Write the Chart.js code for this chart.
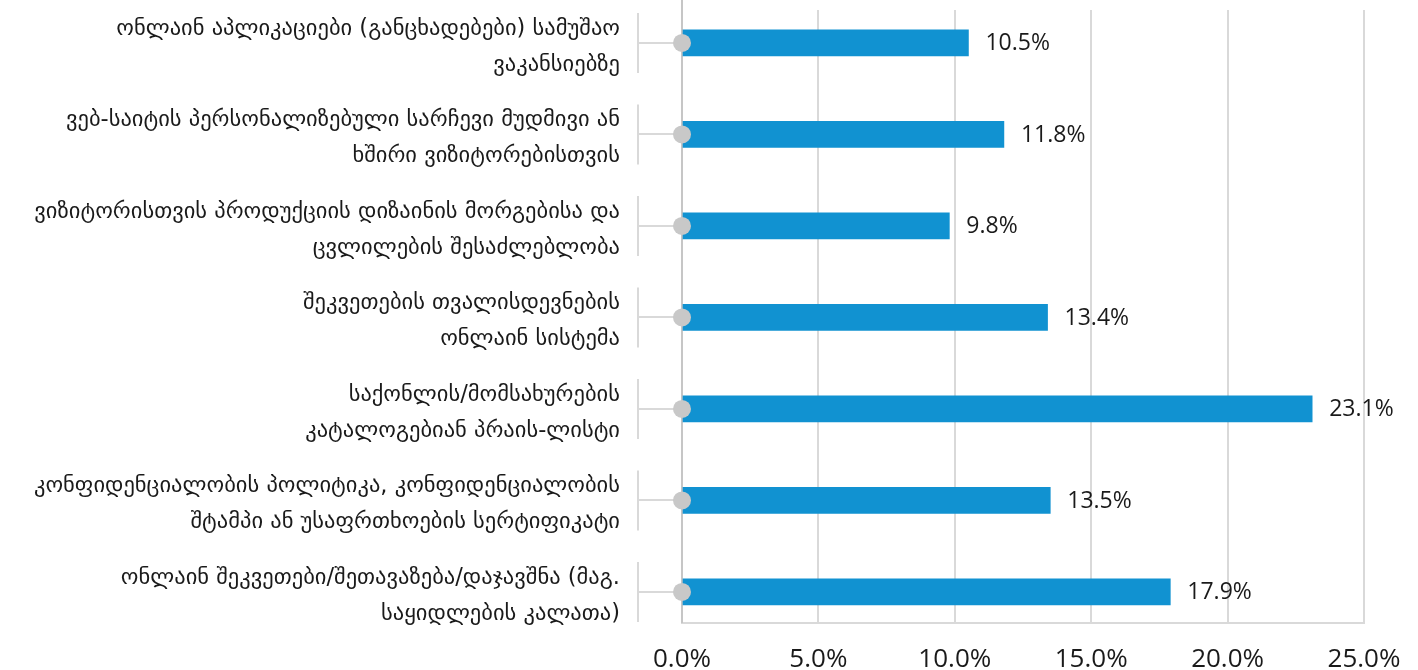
<!DOCTYPE html>
<html>
<head>
<meta charset="utf-8">
<script src="https://cdn.jsdelivr.net/npm/chart.js@4/dist/chart.umd.min.js"></script>
<style>
  html, body { margin: 0; padding: 0; background: #fff; }
  #wrap { position: relative; width: 1418px; height: 670px; }
</style>
</head>
<body>
<div id="wrap"><canvas id="c" width="1418" height="670"></canvas></div>
<script>
const categories = [
  ["ონლაინ აპლიკაციები (განცხადებები) სამუშაო", "ვაკანსიებზე"],
  ["ვებ-საიტის პერსონალიზებული სარჩევი მუდმივი ან", "ხშირი ვიზიტორებისთვის"],
  ["ვიზიტორისთვის პროდუქციის დიზაინის მორგებისა და", "ცვლილების შესაძლებლობა"],
  ["შეკვეთების თვალისდევნების", "ონლაინ სისტემა"],
  ["საქონლის/მომსახურების", "კატალოგებიან პრაის-ლისტი"],
  ["კონფიდენციალობის პოლიტიკა, კონფიდენციალობის", "შტამპი ან უსაფრთხოების სერტიფიკატი"],
  ["ონლაინ შეკვეთები/შეთავაზება/დაჯავშნა (მაგ.", "საყიდლების კალათა)"]
];
const values = [10.5, 11.8, 9.8, 13.4, 23.1, 13.5, 17.9];
const xTicks = [0, 5, 10, 15, 20, 25];

const AREA_LEFT = 682, AREA_TOP = 10, AREA_BOTTOM = 623, AREA_RIGHT = 1364;

const decor = {
  id: 'decor',
  beforeDatasetsDraw(chart) {
    const ctx = chart.ctx, y = chart.scales.y;
    ctx.save();
    ctx.strokeStyle = '#d9d9d9';
    ctx.lineWidth = 2;
    categories.forEach((c, i) => {
      const py = y.getPixelForValue(i);
      ctx.beginPath();
      ctx.moveTo(638, py - 30);
      ctx.lineTo(638, py + 30);
      ctx.stroke();
    });
    ctx.strokeStyle = '#c6c6c6';
    ctx.beginPath();
    ctx.moveTo(chart.chartArea.left, 0);
    ctx.lineTo(chart.chartArea.left, chart.chartArea.bottom);
    ctx.stroke();
    ctx.restore();
  },
  afterDatasetsDraw(chart) {
    const ctx = chart.ctx;
    const meta = chart.getDatasetMeta(0);
    ctx.save();
    ctx.fillStyle = '#1a1a1a';
    ctx.font = '23px "Open Sans"';
    ctx.textAlign = 'left';
    ctx.textBaseline = 'middle';
    meta.data.forEach((bar, i) => {
      ctx.fillText(values[i].toFixed(1) + '%', bar.x + 17, bar.y + 1);
    });
    ctx.restore();
  }
};

new Chart(document.getElementById('c'), {
  data: {
    datasets: [
      {
        type: 'bar',
        data: values.map((v, i) => ({ x: v, y: i })),
        backgroundColor: '#1192d1',
        barThickness: 26,
        order: 1
      },
      {
        type: 'line',
        data: values.map((v, i) => ({ x: 0, y: i })),
        showLine: false,
        pointRadius: 9,
        pointBackgroundColor: '#c8c8c8',
        pointBorderWidth: 0,
        clip: false,
        order: 0
      }
    ]
  },
  plugins: [decor],
  options: {
    indexAxis: 'y',
    responsive: false,
    animation: false,
    layout: { padding: { top: AREA_TOP, right: 1418 - AREA_RIGHT, left: 0, bottom: 0 } },
    plugins: { legend: { display: false }, tooltip: { enabled: false } },
    scales: {
      x: {
        type: 'linear',
        min: 0, max: 25,
        afterBuildTicks: s => { s.ticks = xTicks.map(v => ({ value: v })); },
        afterFit: s => { s.height = 670 - AREA_BOTTOM; s.paddingLeft = 0; s.paddingRight = 0; },
        grid: { color: '#d9d9d9', lineWidth: 2, drawTicks: false },
        border: { color: '#d9d9d9', width: 2 },
        ticks: {
          color: '#1a1a1a',
          font: { family: 'Open Sans', size: 26 },
          padding: 21,
          callback: v => v.toFixed(1) + '%'
        }
      },
      y: {
        type: 'linear',
        reverse: true,
        offset: false,
        min: -0.36, max: 6.34,
        afterBuildTicks: s => { s.ticks = categories.map((c, i) => ({ value: i })); },
        afterFit: s => { s.width = AREA_LEFT; s.paddingTop = 0; s.paddingBottom = 0; },
        grid: { offset: false, drawOnChartArea: false, color: '#d9d9d9', lineWidth: 2, tickLength: 44 },
        border: { display: false },
        ticks: {
          color: '#1a1a1a',
          font: { family: 'DejaVu Sans', size: 22.5, lineHeight: 1.6 },
          padding: 18,
          labelOffset: 4,
          callback: v => categories[v]
        }
      }
    }
  }
});
</script>
</body>
</html>
